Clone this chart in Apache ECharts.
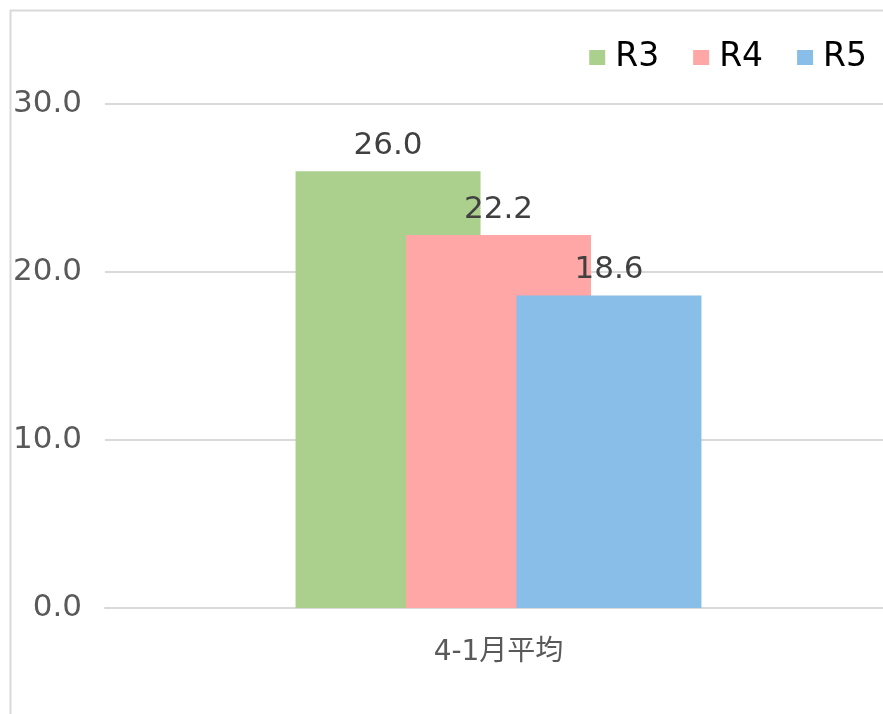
<!DOCTYPE html>
<html>
<head>
<meta charset="utf-8">
<script src="https://cdn.jsdelivr.net/npm/echarts@6/dist/echarts.min.js"></script>
<style>
    html, body { margin: 0; padding: 0; background: #fff; }
    #main { width: 883px; height: 714px; }
</style>
</head>
<body>
<div id="main"></div>
<script>
var categories = ['4-1月平均'];
var seriesNames = ['R3', 'R4', 'R5'];
var valuesR3 = [26.0];
var valuesR4 = [22.2];
var valuesR5 = [18.6];
var yTicks = [0, 10, 20, 30];

var colors = ['#abd08e', '#ffa6a6', '#88bee8'];
var fontFamily = '"DejaVu Sans", "Noto Sans CJK JP", sans-serif';

function makeSeries(name, data, color) {
    return {
        name: name,
        type: 'bar',
        data: data,
        barWidth: 185,
        barGap: '-40.3%',
        itemStyle: { color: color },
        label: {
            show: true,
            position: 'top',
            distance: 10,
            color: '#404040',
            fontSize: 31,
            fontFamily: fontFamily,
            formatter: function (p) { return p.value.toFixed(1); }
        }
    };
}

var option = {
    animation: false,
    textStyle: { fontFamily: fontFamily },
    graphic: [{
        type: 'rect',
        shape: { x: 10.5, y: 10.5, width: 900, height: 800 },
        style: { fill: 'none', stroke: '#d9d9d9', lineWidth: 2 },
        z: -1
    }],
    legend: {
        data: seriesNames,
        right: 11,
        top: 36,
        itemWidth: 16,
        itemHeight: 15,
        itemGap: 34,
        icon: 'rect',
        textStyle: { fontSize: 33, color: '#000', fontFamily: fontFamily, padding: [0, 0, 0, 5] }
    },
    grid: {
        left: 105,
        right: -9,
        top: 104,
        bottom: 106,
        containLabel: false,
        outerBoundsMode: 'none'
    },
    xAxis: {
        type: 'category',
        data: categories,
        axisTick: { show: false },
        axisLine: { lineStyle: { color: '#d9d9d9', width: 2 } },
        axisLabel: { color: '#595959', fontSize: 28, margin: 31, fontFamily: fontFamily }
    },
    yAxis: {
        type: 'value',
        min: yTicks[0],
        max: yTicks[yTicks.length - 1],
        interval: 10,
        axisLine: { show: false },
        axisTick: { show: false },
        splitLine: { lineStyle: { color: '#d9d9d9', width: 2 } },
        axisLabel: {
            color: '#595959',
            fontSize: 31,
            margin: 23,
            fontFamily: fontFamily,
            formatter: function (v) { return v.toFixed(1); }
        }
    },
    series: [
        makeSeries(seriesNames[0], valuesR3, colors[0]),
        makeSeries(seriesNames[1], valuesR4, colors[1]),
        makeSeries(seriesNames[2], valuesR5, colors[2])
    ]
};

var myChart = echarts.init(document.getElementById('main'));
myChart.setOption(option);
</script>
</body>
</html>
